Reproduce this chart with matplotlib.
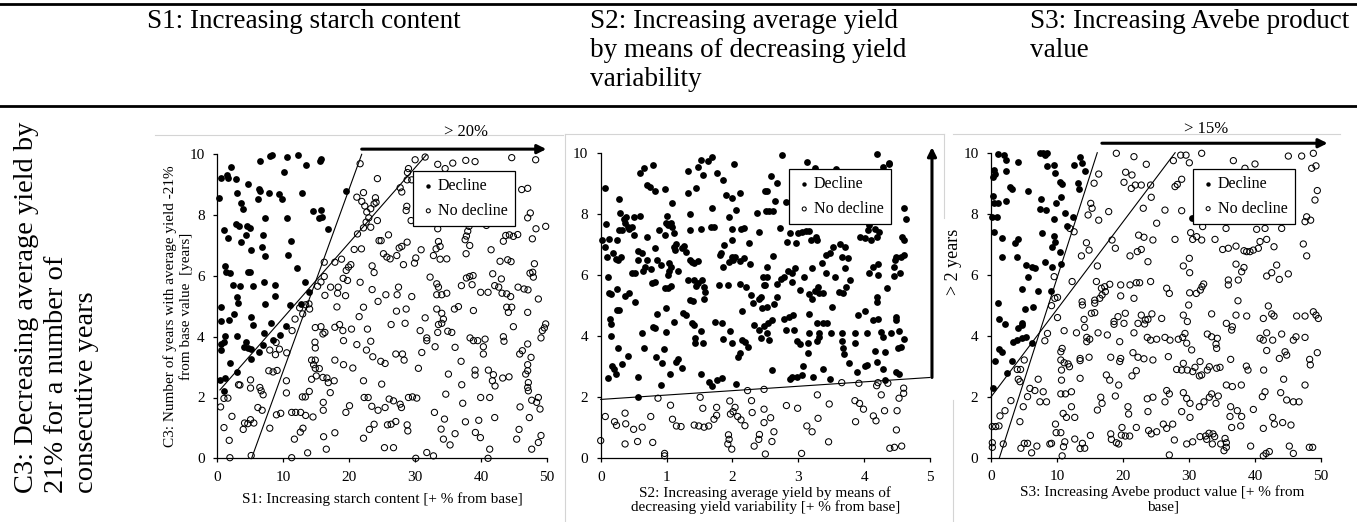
import numpy as np
import matplotlib
matplotlib.use('Agg')
import matplotlib.pyplot as plt
from matplotlib.lines import Line2D

plt.rcParams['font.family'] = ['Liberation Serif', 'DejaVu Serif']

W, H = 1357, 522

# ---- S1: starch content ----
s1_decline = np.array([
    (6.55, 9.78), (8.06, 9.95), (8.31, 9.97), (10.58, 9.91), (12.29, 9.97), (13.4, 9.65), (15.52, 9.78),
    (15.77, 9.84), (10.08, 9.42), (2.12, 9.58), (1.51, 9.32), (0.6, 9.21), (1.61, 9.22), (2.87, 9.18),
    (0.2, 8.57), (2.92, 8.74), (4.63, 9.01), (6.25, 8.85), (6.4, 8.79), (6.15, 8.54), (7.81, 8.74),
    (9.37, 8.7), (9.77, 8.54), (12.85, 8.74), (3.63, 8.4), (3.88, 8.19), (10.53, 7.89), (7.2, 7.92),
    (14.56, 8.13), (15.72, 8.18), (15.37, 7.9), (15.82, 7.93), (16.73, 7.54), (19.55, 8.79), (1.0, 7.52),
    (1.61, 7.25), (2.87, 7.71), (3.27, 7.63), (4.53, 7.63), (4.94, 7.58), (4.33, 7.35), (3.53, 7.1),
    (5.14, 6.86), (7.0, 7.36), (6.75, 6.95), (7.25, 6.66), (11.18, 7.14), (10.78, 6.69), (12.09, 6.25),
    (1.11, 6.31), (1.31, 6.13), (1.86, 6.09), (2.42, 5.7), (3.48, 5.66), (4.63, 6.12), (4.99, 6.12),
    (5.44, 5.68), (7.15, 5.81), (8.82, 5.7), (8.82, 5.35), (7.25, 5.08), (3.02, 5.3), (3.12, 5.12),
    (0.6, 4.97), (0.6, 4.53), (1.81, 4.55), (2.52, 4.75), (5.14, 4.64), (5.44, 4.4), (8.21, 4.46),
    (11.03, 5.03), (12.64, 5.08), (13.35, 5.8), (13.85, 5.46), (7.15, 4.11), (10.48, 4.35), (3.02, 4.01),
    (1.21, 4.03), (1.0, 3.82), (0.6, 3.76), (0.5, 3.56), (4.38, 3.81), (3.98, 3.65), (4.63, 3.63),
    (5.14, 3.6), (6.9, 3.73), (8.46, 3.89), (9.57, 4.07), (6.25, 3.49), (5.14, 3.26), (1.86, 3.13),
    (2.97, 2.85), (0.4, 2.59), (1.11, 2.65), (1.0, 2.22),
])
s1_no_decline = np.array([
    (21.66, 9.69), (24.28, 9.2), (21.16, 8.59), (22.17, 8.74), (21.91, 8.45), (22.37, 8.3), (22.67, 8.1),
    (23.98, 8.57), (23.78, 8.37), (23.27, 8.21), (24.08, 8.42), (22.97, 7.91), (24.28, 7.82), (22.57, 7.77),
    (22.17, 7.58), (23.27, 7.6), (21.26, 7.38), (20.76, 6.87), (21.86, 6.89), (24.53, 7.16), (16.22, 6.45),
    (17.83, 6.45), (18.84, 6.55), (19.55, 6.18), (19.9, 6.29), (20.25, 6.37), (19.09, 5.92), (19.75, 5.85),
    (21.66, 5.79), (23.48, 6.33), (23.78, 6.11), (23.48, 5.55), (24.38, 5.16), (17.18, 5.63), (18.34, 5.63),
    (18.24, 5.43), (19.45, 5.35), (16.32, 5.36), (16.22, 5.98), (15.72, 5.8), (15.21, 5.66), (13.4, 5.05),
    (13.9, 5.08), (14.0, 4.91), (12.95, 4.75), (12.49, 4.95), (11.79, 4.58), (18.14, 4.98), (22.17, 4.97),
    (21.51, 4.66), (14.86, 4.3), (15.72, 4.33), (16.32, 4.14), (16.02, 4.09), (17.83, 4.31), (18.54, 4.4),
    (19.04, 4.2), (20.35, 4.25), (22.77, 4.25), (21.16, 3.74), (22.62, 3.56), (23.27, 3.85), (23.58, 3.34),
    (24.79, 3.19), (19.14, 3.87), (14.81, 3.82), (14.86, 3.63), (11.34, 4.2), (10.53, 3.47), (8.92, 3.81),
    (7.96, 3.56), (9.42, 3.59), (8.82, 3.41), (7.81, 2.88), (8.46, 2.84), (9.07, 2.89), (14.3, 3.23),
    (14.86, 3.23), (14.6, 3.08), (14.86, 2.96), (15.47, 2.95), (14.3, 2.6), (15.01, 2.71), (16.02, 2.66),
    (16.63, 2.64), (16.83, 2.49), (17.73, 2.55), (17.83, 3.23), (19.14, 3.08), (20.55, 2.97), (22.17, 2.55),
    (24.93, 2.44), (22.27, 2.0), (22.88, 2.0), (23.43, 1.71), (24.38, 1.58), (20.05, 1.73), (19.5, 1.51),
    (17.13, 2.16), (13.95, 2.2), (13.35, 2.02), (12.9, 2.02), (16.07, 1.84), (16.07, 1.58), (14.51, 1.36),
    (13.4, 1.41), (12.64, 1.51), (11.89, 1.51), (11.28, 1.51), (10.48, 2.55), (10.48, 2.15), (9.62, 1.48),
    (8.97, 1.43), (7.96, 0.99), (6.95, 2.09), (6.65, 2.22), (6.45, 2.33), (5.04, 2.58), (5.04, 2.31),
    (3.43, 2.41), (3.22, 2.42), (6.15, 1.67), (6.8, 1.58), (5.54, 1.16), (5.04, 1.27), (4.63, 1.14),
    (4.13, 1.16), (3.93, 0.95), (2.22, 1.38), (1.01, 1.01), (1.81, 0.59), (1.91, 0.02), (0.5, 1.69),
    (1.01, 1.97), (1.61, 1.98), (11.69, 0.63), (12.59, 0.86), (12.99, 0.99), (13.7, 0.18), (11.28, 0.02),
    (16.12, 0.71), (16.53, 0.3), (17.83, 0.84), (22.17, 0.66), (23.07, 0.95), (23.78, 1.12), (5.14, 0.09),
    (28.99, 9.53), (28.84, 9.4), (28.79, 9.16), (30.0, 9.82), (31.52, 9.91), (27.98, 8.76), (27.73, 8.9),
    (29.49, 9.16), (33.43, 9.67), (34.55, 9.53), (35.71, 9.71), (37.68, 9.8), (39.09, 9.76), (44.65, 9.89),
    (48.28, 9.82), (46.16, 8.84), (47.07, 8.88), (28.74, 8.29), (28.64, 8.15), (29.39, 7.82), (33.43, 7.55),
    (37.98, 7.47), (38.18, 7.63), (40.81, 7.66), (47.07, 7.91), (47.47, 8.07), (48.33, 7.55), (49.8, 7.63),
    (47.78, 7.22), (25.96, 7.35), (24.85, 7.16), (37.78, 7.31), (37.58, 7.19), (38.28, 7.0), (43.38, 7.14),
    (43.74, 7.33), (44.29, 7.35), (44.9, 7.3), (45.56, 7.36), (28.79, 7.11), (27.98, 6.97), (27.58, 6.92),
    (30.91, 6.86), (33.54, 7.13), (33.79, 6.97), (33.18, 6.89), (32.78, 6.67), (34.8, 6.56), (33.79, 6.55),
    (25.2, 6.73), (25.71, 6.62), (26.21, 6.56), (27.22, 6.67), (30.1, 6.59), (29.9, 6.42), (28.23, 6.37),
    (37.73, 6.73), (41.52, 6.86), (42.88, 6.48), (44.04, 6.53), (44.55, 6.47), (48.09, 6.4), (47.83, 6.12),
    (47.42, 6.09), (47.93, 5.96), (41.77, 6.07), (38.79, 6.01), (38.28, 5.98), (37.78, 5.93), (37.02, 5.68),
    (38.64, 5.71), (32.27, 5.96), (33.28, 5.74), (33.54, 5.63), (33.28, 5.38), (34.04, 5.38), (34.8, 5.43),
    (39.94, 5.46), (41.06, 5.46), (42.07, 5.68), (42.68, 5.63), (43.08, 5.9), (43.18, 5.43), (43.89, 5.41),
    (44.49, 5.32), (45.61, 5.63), (46.52, 5.57), (47.12, 5.54), (48.69, 5.24), (25.56, 5.38), (27.48, 5.63),
    (27.27, 5.38), (29.49, 5.32), (27.17, 4.84), (28.64, 4.91), (33.28, 4.91), (34.04, 4.77), (34.29, 4.58),
    (34.04, 4.44), (33.54, 4.4), (35.96, 4.91), (36.57, 4.99), (38.84, 4.86), (44.14, 4.8), (43.89, 4.97),
    (44.65, 4.97), (47.07, 4.8), (44.9, 4.33), (49.8, 4.42), (49.6, 4.29), (49.29, 4.2), (49.09, 3.96),
    (26.36, 4.4), (28.48, 4.44), (31.52, 4.62), (30.76, 4.2), (31.77, 3.96), (31.77, 3.87), (33.03, 3.67),
    (33.43, 4.14), (34.95, 4.18), (35.56, 4.14), (36.06, 3.65), (38.33, 3.96), (38.84, 3.87), (39.49, 3.87),
    (40.61, 3.92), (40.35, 3.67), (40.35, 3.43), (43.38, 4.0), (43.48, 3.85), (45.86, 3.43), (46.26, 3.54),
    (47.07, 3.76), (47.58, 3.32), (31.01, 3.48), (27.07, 3.43), (28.08, 3.43), (28.33, 3.23), (25.45, 3.12),
    (30.5, 2.96), (35.05, 2.77), (36.97, 3.19), (39.09, 2.9), (39.09, 2.74), (41.11, 2.9), (41.87, 2.75),
    (41.72, 2.55), (42.12, 2.38), (43.28, 2.64), (44.24, 2.68), (47.07, 3.08), (47.07, 2.88), (46.77, 2.77),
    (47.17, 2.49), (47.07, 2.33), (47.17, 2.22), (48.69, 2.0), (48.43, 1.84), (47.68, 1.91), (48.94, 1.62),
    (47.32, 1.34), (45.91, 1.69), (37.07, 2.42), (34.65, 2.11), (37.22, 1.81), (39.94, 2.0), (41.31, 2.0),
    (42.07, 1.34), (32.93, 1.51), (34.45, 1.29), (33.94, 0.96), (36.06, 0.81), (35.3, 0.44), (34.29, 0.63),
    (37.63, 1.2), (39.65, 1.25), (39.14, 0.85), (39.9, 0.68), (41.31, 0.3), (41.06, 0.0), (45.76, 0.95),
    (45.4, 0.63), (47.68, 0.3), (48.69, 0.52), (49.09, 0.75), (28.99, 2.0), (29.6, 2.02), (30.25, 1.98),
    (26.72, 1.89), (26.06, 1.95), (27.73, 1.78), (27.93, 1.67), (25.45, 1.67), (27.07, 1.21), (26.36, 1.12),
    (25.81, 1.1), (28.79, 1.1), (28.89, 0.9), (25.35, 0.35), (26.72, 0.35), (30.1, 0.0), (31.77, 0.19),
    (32.78, 0.08),
])
s1_line_a = np.array([(0.4, 2.25), (31.7, 9.98)])
s1_line_b = np.array([(5.2, 0.0), (21.9, 10.0)])

# ---- S2: yield variability ----
s2_decline = np.array([
    (0.07, 8.85), (0.02, 7.16), (0.13, 7.2), (0.07, 6.92), (0.09, 6.59), (0.24, 7.16), (0.19, 6.74),
    (0.23, 6.55), (0.27, 6.5), (0.31, 6.61), (0.28, 8.51), (0.29, 8.05), (0.08, 7.68), (0.36, 7.84),
    (0.39, 7.9), (0.37, 7.73), (0.42, 7.6), (0.43, 7.51), (0.47, 7.57), (0.5, 7.33), (0.28, 7.49),
    (0.32, 7.49), (0.51, 7.92), (0.6, 7.96), (0.6, 9.37), (0.65, 9.51), (0.79, 9.63), (0.71, 8.95),
    (0.75, 8.89), (0.82, 8.78), (0.98, 8.83), (1.08, 8.36), (0.11, 5.96), (0.12, 5.41), (0.16, 5.38),
    (0.25, 5.55), (0.37, 5.32), (0.43, 5.41), (0.52, 5.14), (0.24, 4.86), (0.28, 4.86), (0.14, 4.58),
    (0.16, 4.4), (0.15, 4.01), (0.26, 3.63), (0.41, 3.36), (0.32, 3.09), (0.17, 3.03), (0.2, 2.92),
    (0.23, 2.75), (0.11, 2.62), (0.57, 2.68), (0.57, 2.02), (0.63, 4.12), (0.66, 3.62), (0.8, 4.3),
    (0.83, 4.27), (0.85, 4.73), (0.99, 4.92), (0.99, 4.15), (1.12, 4.48), (0.96, 3.57), (0.84, 3.31),
    (0.93, 3.11), (0.91, 2.4), (1.05, 2.75), (1.15, 3.17), (1.17, 3.25), (1.24, 2.95), (1.25, 4.75),
    (1.29, 4.7), (1.39, 4.45), (1.41, 4.37), (1.43, 3.93), (1.43, 3.77), (1.56, 3.77), (1.53, 4.19),
    (1.52, 2.77), (1.65, 2.51), (1.69, 2.37), (1.77, 2.57), (1.84, 2.62), (1.74, 4.48), (1.84, 4.45),
    (1.96, 4.19), (1.99, 3.79), (1.85, 3.92), (2.15, 3.88), (2.19, 3.8), (2.23, 3.66), (2.14, 4.84),
    (2.11, 3.44), (2.08, 3.33), (2.05, 2.44), (2.33, 4.37), (2.41, 4.21), (2.43, 3.93), (2.48, 4.34),
    (0.56, 6.81), (0.57, 6.5), (0.63, 6.72), (0.7, 6.5), (0.48, 6.07), (0.52, 6.07), (0.64, 6.15),
    (0.68, 6.28), (0.71, 7.25), (0.76, 6.2), (0.78, 5.74), (0.82, 5.79), (0.86, 6.5), (0.82, 6.89),
    (0.91, 6.34), (0.88, 7.49), (0.97, 7.32), (0.99, 7.7), (1.01, 7.96), (1.02, 7.65), (1.06, 7.73),
    (1.08, 7.57), (1.11, 7.4), (1.03, 6.39), (1.04, 6.15), (1.02, 6.01), (1.06, 6.28), (1.12, 6.94),
    (1.15, 7.03), (1.13, 6.83), (1.18, 6.15), (0.98, 5.58), (1.06, 5.66), (1.02, 5.6), (1.24, 6.89),
    (1.26, 6.96), (1.29, 6.78), (1.35, 6.5), (1.39, 6.43), (1.42, 6.39), (1.47, 6.47), (1.32, 5.85),
    (1.42, 5.85), (1.44, 5.65), (1.48, 5.76), (1.54, 5.83), (1.57, 5.63), (1.58, 5.46), (1.57, 5.21),
    (1.35, 5.19), (1.4, 5.17), (1.36, 7.49), (1.33, 9.43), (1.47, 9.56), (1.52, 9.78), (1.55, 9.29),
    (1.63, 9.76), (1.69, 9.87), (1.76, 9.34), (1.85, 9.13), (1.91, 8.63), (1.99, 8.52), (2.05, 8.14),
    (1.95, 7.9), (2.03, 9.65), (1.45, 8.85), (1.32, 8.71), (1.69, 8.2), (1.72, 7.57), (1.67, 7.57),
    (1.53, 7.51), (1.36, 8.01), (2.12, 8.71), (1.99, 7.51), (2.13, 7.51), (2.18, 7.54), (2.25, 7.05),
    (2.41, 7.43), (2.38, 8.05), (2.51, 8.12), (2.5, 8.78), (1.87, 7.0), (1.82, 6.74), (1.81, 6.67),
    (1.86, 6.26), (1.95, 6.42), (1.99, 6.59), (2.01, 6.5), (2.04, 6.61), (2.11, 6.48), (2.18, 6.56),
    (2.26, 6.37), (2.0, 7.16), (1.79, 5.68), (1.94, 5.68), (2.11, 5.72), (2.2, 5.63), (2.28, 5.36),
    (2.31, 5.08), (2.4, 5.21), (2.45, 4.92), (2.46, 5.96), (2.48, 5.68), (2.44, 5.3),
    (2.75, 9.95), (3.13, 9.73), (3.26, 9.51), (3.58, 9.48), (4.2, 9.97), (4.38, 9.65), (2.59, 9.26),
    (2.68, 9.02), (2.52, 8.78), (2.65, 8.42), (2.55, 8.12), (2.62, 8.12), (2.82, 8.39), (2.73, 7.54),
    (2.88, 7.38), (2.97, 7.05), (2.99, 7.4), (3.06, 7.43), (3.11, 7.46), (3.17, 7.46), (2.83, 7.1),
    (3.19, 7.16), (3.27, 7.25), (3.29, 7.16), (3.93, 7.25), (4.02, 7.21), (4.06, 7.49), (4.17, 7.51),
    (4.22, 7.43), (4.2, 7.25), (4.11, 7.16), (4.07, 7.65), (4.16, 7.81), (4.61, 8.2), (4.64, 7.84),
    (4.58, 7.27), (4.6, 7.16), (3.53, 6.94), (3.63, 7.03), (3.71, 6.94), (3.48, 6.74), (3.42, 6.67),
    (3.66, 6.59), (3.36, 6.39), (3.21, 6.23), (3.08, 5.96), (2.95, 6.23), (2.9, 6.07), (2.84, 6.14),
    (2.79, 5.96), (2.74, 5.87), (2.52, 6.26), (2.62, 6.64), (2.53, 5.93), (2.5, 5.68), (2.67, 5.72),
    (2.67, 5.28), (2.63, 5.05), (2.53, 4.97), (2.91, 5.79), (3.02, 5.52), (3.17, 5.39), (3.21, 5.21),
    (3.25, 5.5), (3.31, 5.41), (3.38, 5.41), (3.3, 5.63), (3.42, 6.09), (3.56, 5.96), (3.62, 5.46),
    (3.68, 5.43), (3.72, 5.63), (3.78, 5.85), (3.51, 4.97), (3.71, 6.23), (3.76, 6.56), (4.07, 6.09),
    (4.14, 6.28), (4.21, 6.37), (4.21, 6.01), (4.2, 5.3), (4.19, 5.14), (4.34, 5.57), (4.46, 5.98),
    (4.46, 6.26), (4.54, 6.07), (4.56, 6.61), (4.6, 6.67), (4.47, 6.5), (4.49, 6.61), (3.9, 4.7),
    (4.01, 4.84), (4.14, 4.54), (4.21, 4.56), (4.25, 4.15), (4.29, 3.99), (4.41, 4.12), (4.49, 4.54),
    (4.49, 4.64), (4.53, 4.19), (4.6, 3.9), (4.56, 3.66), (4.51, 3.61), (4.31, 3.5), (4.16, 3.53),
    (4.19, 3.17), (4.29, 2.92), (4.49, 2.84), (4.53, 2.77), (4.02, 3.01), (4.04, 3.06), (3.89, 2.84),
    (3.77, 3.14), (3.67, 3.86), (3.67, 4.12), (3.68, 3.61), (3.69, 3.42), (3.86, 4.12), (3.86, 3.79),
    (4.05, 4.1), (3.5, 4.1), (3.31, 4.12), (3.29, 4.43), (3.38, 4.43), (3.43, 4.43), (3.32, 3.99),
    (3.28, 3.83), (3.16, 4.12), (3.15, 3.79), (3.14, 3.44), (3.03, 3.75), (2.98, 3.86), (2.93, 4.21),
    (2.82, 4.21), (2.92, 4.7), (2.86, 4.64), (2.78, 4.57), (3.17, 4.73), (2.6, 4.54), (2.54, 4.45),
    (2.53, 4.12), (2.55, 3.88), (3.07, 3.03), (3.06, 2.73), (2.98, 2.68), (2.9, 2.66), (2.87, 2.59),
    (2.6, 2.9), (3.23, 2.68), (3.38, 2.92), (3.48, 2.59), (4.31, 2.57), (4.29, 9.55), (4.38, 9.68),
])
s2_no_decline = np.array([
    (0.0, 0.58), (0.07, 1.37), (0.21, 1.2), (0.24, 1.08), (0.37, 1.48), (0.38, 1.13), (0.5, 0.95),
    (0.63, 1.02), (0.76, 1.37), (0.37, 0.47), (0.56, 0.55), (0.79, 0.52), (0.87, 1.97), (1.06, 1.74),
    (1.09, 1.28), (1.15, 1.06), (1.22, 1.04), (0.97, 0.16), (0.97, 0.08), (1.42, 1.09), (1.49, 1.06),
    (1.57, 1.02), (1.64, 1.06), (1.72, 1.28), (1.76, 1.41), (1.76, 1.67), (1.55, 1.64), (1.51, 2.0),
    (1.96, 1.88), (1.97, 1.45), (2.01, 1.53), (2.04, 1.67), (2.08, 1.37), (2.13, 1.26), (2.19, 1.07),
    (1.94, 0.77), (1.95, 0.62), (1.93, 0.47), (1.99, 0.3), (2.23, 2.22), (2.29, 1.89), (2.3, 1.5),
    (2.33, 0.4), (2.4, 0.62), (2.41, 0.78), (2.48, 2.26), (2.48, 1.61), (2.48, 1.17), (2.5, 0.14),
    (3.66, 2.48), (3.92, 2.46), (4.19, 2.38), (4.21, 2.48), (4.36, 2.46), (4.6, 2.3), (4.6, 2.13),
    (4.53, 1.97), (3.29, 2.08), (2.82, 1.73), (2.99, 1.64), (3.47, 1.78), (3.86, 1.89), (3.93, 1.8),
    (3.99, 1.61), (4.26, 2.08), (4.31, 1.56), (4.5, 1.56), (2.58, 1.33), (3.3, 1.31), (3.13, 1.06),
    (3.21, 0.87), (3.46, 0.54), (3.87, 1.2), (4.14, 1.39), (4.18, 1.23), (4.49, 0.93), (4.39, 0.33),
    (4.46, 0.36), (4.57, 0.4), (2.63, 0.87), (2.6, 0.55), (3.05, 0.16),
])
s2_line = np.array([(0.0, 1.93), (5.0, 2.65)])

# ---- S3: Avebe product value ----
s3_decline = np.array([
    (1.01, 9.96), (2.02, 9.92), (2.22, 9.76), (4.03, 9.69), (7.41, 10.0), (7.91, 9.98), (8.56, 9.98),
    (8.16, 9.92), (8.41, 9.56), (9.52, 9.61), (9.77, 9.32), (12.59, 9.59), (13.5, 9.85), (13.8, 9.67),
    (14.3, 9.41), (0.5, 9.43), (0.6, 9.3), (0.35, 9.19), (2.22, 9.41), (2.87, 8.89), (3.12, 8.8),
    (5.64, 8.76), (10.43, 9.05), (10.78, 8.97), (13.2, 9.02), (13.3, 8.8), (10.58, 8.54), (9.92, 8.34),
    (7.56, 8.47), (7.41, 8.14), (8.31, 8.12), (9.57, 7.82), (11.18, 8.03), (11.58, 7.6), (12.49, 7.88),
    (0.35, 8.58), (0.5, 8.36), (1.11, 8.34), (2.22, 8.43), (0.2, 7.9), (0.86, 7.9), (0.5, 7.41),
    (1.61, 7.19), (3.63, 7.03), (4.03, 7.16), (1.71, 6.57), (3.93, 6.59), (7.76, 7.38), (9.52, 7.27),
    (9.67, 7.09), (9.17, 6.92), (10.48, 6.76), (8.16, 6.43), (9.17, 6.24), (10.68, 6.35), (5.24, 6.32),
    (6.15, 6.24), (6.65, 6.21), (5.54, 5.92), (4.63, 5.52), (7.15, 5.48), (9.07, 5.46), (1.01, 5.09),
    (5.14, 4.87), (6.4, 4.96), (1.21, 4.56), (2.12, 4.39), (4.63, 4.41), (4.73, 4.36), (4.13, 4.25),
    (3.37, 3.8), (3.98, 3.86), (4.63, 3.92), (5.34, 3.95), (6.15, 3.78), (1.21, 3.56), (1.71, 3.48),
    (0.6, 3.19), (3.12, 3.19), (2.37, 2.77), (0.35, 2.28), (30.4, 7.85),
])
s3_no_decline = np.array([
    (18.99, 9.98), (21.66, 9.87), (23.53, 9.62), (20.4, 9.36), (21.36, 9.27), (20.15, 9.03), (21.26, 8.83),
    (21.86, 8.94), (22.77, 8.94), (24.18, 8.94), (24.28, 8.54), (23.07, 8.18), (16.32, 9.3), (15.62, 9.0),
    (15.11, 8.34), (15.32, 8.18), (14.71, 7.96), (16.32, 7.79), (17.83, 8.07), (12.59, 7.41), (18.34, 7.14),
    (18.84, 6.87), (14.46, 7.05), (14.86, 6.81), (13.7, 6.62), (21.06, 6.62), (22.17, 6.76), (22.77, 6.83),
    (22.37, 7.3), (23.17, 7.23), (23.78, 6.43), (24.53, 7.14), (12.29, 5.78), (15.97, 5.78), (16.73, 5.56),
    (17.23, 5.61), (17.99, 5.69), (17.33, 5.45), (16.83, 5.34), (16.48, 5.23), (15.72, 5.17), (15.72, 5.07),
    (19.65, 5.31), (19.65, 5.67), (21.06, 5.67), (22.02, 5.74), (22.52, 5.74), (24.18, 5.78), (21.66, 5.23),
    (9.67, 5.23), (10.08, 5.26), (9.17, 4.99), (13.8, 5.12), (13.85, 5.01), (10.08, 4.6), (14.1, 4.54),
    (15.21, 4.74), (15.72, 4.76), (14.2, 4.28), (12.95, 4.1), (11.08, 4.17), (8.56, 4.08), (8.16, 3.84),
    (14.51, 3.95), (14.51, 3.81), (14.96, 3.89), (16.22, 4.1), (17.63, 4.03), (18.64, 4.38), (18.64, 4.47),
    (19.24, 4.63), (20.15, 4.41), (20.35, 4.74), (21.66, 4.1), (22.27, 4.41), (22.77, 4.68), (23.27, 4.39),
    (23.38, 4.52), (23.78, 4.54), (24.38, 4.72), (23.68, 3.95), (24.18, 3.86), (19.5, 3.81), (10.78, 3.59),
    (10.58, 3.48), (10.58, 3.21), (11.08, 3.12), (11.69, 3.08), (11.89, 2.99), (10.68, 2.88), (10.68, 2.55),
    (10.58, 2.1), (11.28, 2.1), (13.5, 3.26), (13.5, 3.19), (14.86, 3.3), (13.5, 2.61), (18.14, 3.3),
    (19.65, 3.26), (19.5, 3.16), (17.48, 2.72), (17.99, 2.55), (19.35, 2.39), (18.84, 2.03), (21.51, 3.45),
    (22.27, 3.3), (23.17, 3.25), (22.02, 2.86), (21.36, 2.69), (24.53, 3.21), (23.68, 1.94), (24.53, 1.99),
    (23.78, 1.52), (20.75, 1.68), (20.85, 1.44), (16.63, 1.99), (16.83, 1.79), (16.12, 1.57), (12.19, 1.68),
    (10.93, 1.46), (11.43, 1.33), (12.69, 1.33), (9.77, 1.11), (8.92, 0.46), (9.87, 0.83), (10.58, 0.83),
    (10.78, 0.07), (11.18, 0.53), (10.98, 0.37), (12.69, 0.62), (13.85, 0.48), (14.2, 0.32), (15.06, 0.74),
    (13.5, 0.31), (18.14, 0.79), (18.24, 0.61), (18.99, 0.5), (19.35, 0.46), (19.75, 0.75), (19.85, 1.0),
    (20.35, 0.72), (21.01, 0.72), (22.02, 1.0), (23.88, 0.9), (24.28, 0.79), (7.15, 2.58), (5.89, 2.28),
    (6.65, 2.21), (7.91, 2.17), (7.41, 1.84), (8.41, 1.84), (5.54, 2.01), (4.89, 1.68), (4.38, 1.19),
    (3.02, 1.88), (2.12, 1.55), (1.36, 1.38), (1.21, 1.05), (0.71, 1.03), (0.2, 1.03), (0.2, 0.5),
    (0.2, 0.35), (1.86, 0.46), (4.13, 2.58), (4.38, 2.5), (3.98, 2.9), (4.48, 2.9), (5.04, 3.21),
    (4.53, 0.32), (5.04, 0.48), (5.54, 0.48), (6.15, 0.17), (6.95, 0.39), (9.17, 0.48), (12.19, 2.17),
    (9.57, 5.94), (11.94, 7.52), (16.12, 6.29),
    (27.63, 9.74), (27.88, 8.89), (28.23, 8.96), (28.89, 9.13), (28.74, 9.92), (30.05, 9.67), (29.55, 9.92),
    (31.92, 9.98), (36.72, 9.74), (38.48, 9.49), (40.0, 9.63), (45.05, 9.89), (47.07, 9.89), (48.84, 9.98),
    (48.59, 9.49), (49.24, 9.57), (49.44, 8.76), (49.09, 8.45), (47.83, 7.9), (48.43, 7.79), (47.58, 7.74),
    (47.32, 7.01), (47.83, 6.62), (26.36, 8.12), (28.89, 8.1), (25.1, 7.69), (27.88, 7.16), (30.25, 7.38),
    (30.56, 7.16), (31.16, 7.25), (31.92, 7.14), (33.94, 7.16), (32.07, 7.58), (35.61, 7.52), (40.25, 7.49),
    (41.52, 7.52), (44.04, 7.52), (40.76, 7.09), (41.77, 7.16), (42.88, 6.92), (35.1, 6.83), (35.96, 6.87),
    (37.12, 6.94), (38.33, 6.79), (38.74, 6.76), (39.24, 6.76), (39.75, 6.81), (40.51, 6.87), (30.05, 6.54),
    (29.14, 6.29), (30.1, 6.07), (37.12, 6.35), (38.33, 6.24), (37.98, 6.1), (37.47, 5.83), (35.96, 5.83),
    (35.96, 5.67), (41.77, 5.96), (42.53, 6.07), (43.28, 6.32), (43.69, 5.85), (45.05, 6.03), (26.62, 5.56),
    (27.02, 5.39), (30.1, 5.41), (31.11, 5.39), (31.72, 5.5), (31.97, 5.61), (32.22, 5.7), (29.95, 5.01),
    (37.42, 5.15), (25.86, 4.57), (29.14, 4.68), (29.75, 4.47), (33.43, 4.72), (37.12, 4.68), (38.74, 4.65),
    (41.26, 4.57), (42.02, 4.98), (42.53, 4.72), (42.88, 4.65), (46.31, 4.65), (47.58, 4.65), (48.84, 4.79),
    (49.24, 4.68), (49.6, 4.57), (35.66, 4.41), (36.57, 4.3), (36.46, 4.19), (25.1, 3.89), (26.36, 3.95),
    (27.12, 3.86), (28.38, 3.89), (29.04, 3.95), (29.39, 4.08), (29.65, 3.76), (30.4, 3.54), (32.78, 4.06),
    (33.43, 3.97), (34.29, 3.92), (34.09, 3.73), (34.19, 3.59), (40.76, 3.92), (41.26, 3.86), (41.77, 4.1),
    (42.68, 3.86), (44.04, 4.06), (45.81, 3.86), (46.21, 3.97), (47.58, 3.95), (44.55, 3.48), (44.8, 3.37),
    (43.69, 3.26), (41.77, 3.52), (48.28, 3.23), (48.38, 3.05), (49.44, 3.45), (36.31, 3.23), (38.69, 3.01),
    (38.94, 2.88), (41.31, 2.88), (26.87, 3.32), (28.13, 2.9), (28.89, 2.88), (29.14, 3.1), (29.75, 2.88),
    (30.56, 2.83), (30.91, 2.97), (31.57, 2.69), (31.92, 2.72), (31.67, 3.16), (32.78, 2.88), (33.08, 2.99),
    (34.19, 2.94), (34.7, 2.97), (44.34, 2.58), (47.58, 2.39), (35.66, 2.39), (36.57, 2.34), (37.93, 2.39),
    (41.52, 2.17), (41.11, 2.01), (43.89, 2.14), (44.8, 1.9), (45.81, 1.84), (46.67, 1.84), (26.62, 2.21),
    (27.02, 2.1), (26.36, 1.84), (29.14, 2.14), (29.65, 1.95), (30.15, 1.79), (31.57, 1.68), (32.27, 1.84),
    (33.08, 1.99), (33.43, 2.1), (34.44, 2.03), (34.09, 1.79), (28.89, 1.52), (30.15, 1.33), (36.31, 1.68),
    (37.32, 1.55), (36.21, 1.36), (37.98, 1.36), (37.83, 1.05), (36.46, 1.0), (39.75, 1.59), (42.68, 1.33),
    (42.93, 1.11), (44.19, 1.16), (45.45, 1.08), (41.26, 0.97), (26.11, 1.11), (26.62, 0.97), (27.53, 1.11),
    (25.1, 0.86), (27.78, 0.59), (29.65, 0.46), (30.56, 0.53), (31.67, 0.7), (32.53, 0.72), (33.03, 0.81),
    (33.64, 0.79), (33.89, 0.7), (33.54, 0.46), (32.68, 0.61), (34.8, 0.46), (35.46, 0.64), (35.66, 0.5),
    (35.66, 0.35), (35.3, 0.24), (39.34, 0.39), (41.26, 0.07), (41.67, 0.15), (42.17, 0.21), (45.2, 0.39),
    (45.81, 0.15), (48.23, 0.35), (48.74, 0.35), (27.02, 0.1),
])
s3_line_a = np.array([(0.0, 2.0), (27.9, 10.0)])
s3_line_b = np.array([(1.26, 0.0), (16.1, 10.0)])

header_s1 = 'S1: Increasing starch content'
header_s2 = 'S2: Increasing average yield\nby means of decreasing yield\nvariability'
header_s3 = 'S3: Increasing Avebe product\nvalue'
row_label = 'C3: Decreasing average yield by\n21% for a number of\nconsecutive years'


def fx(px):
    return px / W


def fy(py):
    return 1 - py / H


def style_axes(ax, xmax, xticks):
    ax.set_xlim(0, xmax)
    ax.set_ylim(0, 10)
    ax.set_xticks(xticks)
    ax.set_yticks([0, 2, 4, 6, 8, 10])
    for side in ['top', 'right']:
        ax.spines[side].set_visible(False)
    for side in ['left', 'bottom']:
        ax.spines[side].set_linewidth(0.9)
    ax.tick_params(direction='out', length=3, width=0.9, labelsize=11, pad=6)


def draw_points(ax, decline, no_decline, lines, legend_at):
    ax.scatter(no_decline[:, 0], no_decline[:, 1], s=20, facecolors='none', edgecolors='black',
               linewidths=0.75, clip_on=False, zorder=3, label='No decline')
    ax.scatter(decline[:, 0], decline[:, 1], s=24, c='black', linewidths=0,
               clip_on=False, zorder=4, label='Decline')
    for ln in lines:
        ax.plot(ln[:, 0], ln[:, 1], color='black', lw=0.8, zorder=5, clip_on=False)
    handles, labels = ax.get_legend_handles_labels()
    leg = ax.legend(handles[::-1], labels[::-1], loc='upper left', bbox_to_anchor=legend_at,
                    borderaxespad=0, frameon=True, fancybox=False, edgecolor='black', framealpha=1,
                    fontsize=11.5, handletextpad=0.1, handlelength=1.0, borderpad=0.45,
                    labelspacing=0.55, markerscale=0.65)
    leg.get_frame().set_linewidth(0.9)
    leg.set_zorder(10)


fig = plt.figure(figsize=(W / 100, H / 100), dpi=100)

ax1 = fig.add_axes([fx(217.3), fy(458.3), fx(547) - fx(217.3), (458.3 - 154.3) / H])
ax2 = fig.add_axes([fx(600.7), fy(458.3), fx(930) - fx(600.7), (458.3 - 153.3) / H])
ax3 = fig.add_axes([fx(991), fy(458), fx(1321) - fx(991), (458 - 152.7) / H])

style_axes(ax1, 50, [0, 10, 20, 30, 40, 50])
style_axes(ax2, 5, [0, 1, 2, 3, 4, 5])
style_axes(ax3, 50, [0, 10, 20, 30, 40, 50])

draw_points(ax1, s1_decline, s1_no_decline, [s1_line_a, s1_line_b], (0.594, 0.945))
draw_points(ax2, s2_decline, s2_no_decline, [s2_line], (0.572, 0.948))
draw_points(ax3, s3_decline, s3_no_decline, [s3_line_a, s3_line_b], (0.612, 0.947))

ax1.set_ylabel('C3: Number of years with average yield -21%\nfrom base value  [years]', fontsize=11)
ax1.yaxis.set_label_coords(-0.074, 0.5)
ax1.set_xlabel('S1: Increasing starch content [+ % from base]', fontsize=11)
ax1.xaxis.set_label_coords(0.5, -0.112)
ax2.set_xlabel('S2: Increasing average yield by means of\ndecreasing yield variability [+ % from base]',
               fontsize=11, linespacing=1.1)
ax2.xaxis.set_label_coords(0.5, -0.09)
ax3.set_xlabel('S3: Increasing Avebe product value [+ % from\nbase]', fontsize=11, linespacing=1.1)
ax3.xaxis.set_label_coords(0.52, -0.09)

# threshold arrows
arrow_kw = dict(arrowstyle='-|>', lw=2.2, color='black', mutation_scale=13, shrinkA=0, shrinkB=0)
ax1.annotate('', xy=(49.9, 10.17), xytext=(21.9, 10.17), arrowprops=arrow_kw, annotation_clip=False)
ax1.text(37.7, 10.72, '> 20%', ha='center', va='center', fontsize=12, clip_on=False)
ax3.annotate('', xy=(51.0, 10.31), xytext=(16.8, 10.31), arrowprops=arrow_kw, annotation_clip=False)
ax3.text(32.6, 10.78, '> 15%', ha='center', va='center', fontsize=12, clip_on=False)
ax2.annotate('', xy=(5.03, 10.2), xytext=(5.03, 2.65), arrowprops=arrow_kw, annotation_clip=False)
fig.text(fx(953), fy(262), '> 2 years', rotation=90, ha='center', va='center', fontsize=13)

# table rules and headers
for yy in [3.5, 105.5]:
    fig.add_artist(Line2D([0, 1], [fy(yy), fy(yy)], color='black', lw=2.0, transform=fig.transFigure))
fig.text(fx(147), fy(9), header_s1, ha='left', va='top', fontsize=19.5)
fig.text(fx(590), fy(9), header_s2, ha='left', va='top', fontsize=19.5, linespacing=1.2)
fig.text(fx(1030), fy(9), header_s3, ha='left', va='top', fontsize=19.5, linespacing=1.2)
fig.text(fx(14), fy(493), row_label, rotation=90, rotation_mode='anchor', ha='left', va='top',
         fontsize=20.5, linespacing=1.27)

# faint chart-area borders
gray = '#d4d4d4'
segments = [
    [(155, 135), (563, 135)],
    [(565, 134), (944, 134)], [(565, 134), (565, 522)], [(944, 134), (944, 218)],
    [(953, 134), (1340, 134)], [(953, 400), (953, 522)],
]
for (xa, ya), (xb, yb) in segments:
    fig.add_artist(Line2D([fx(xa), fx(xb)], [fy(ya), fy(yb)], color=gray, lw=0.8,
                          transform=fig.transFigure, zorder=0))

fig.savefig('out.png', dpi=100)
